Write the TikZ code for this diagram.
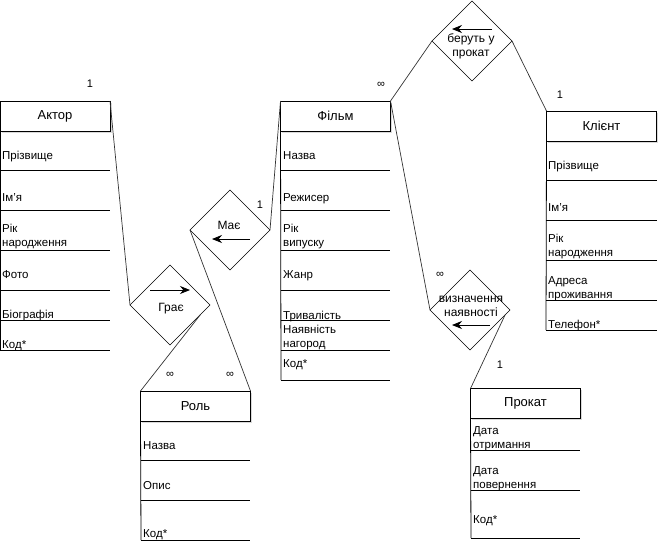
\documentclass[tikz,border=0pt]{standalone}
\usepackage{fontspec}
\setmainfont{Liberation Sans}
\usetikzlibrary{ shapes.geometric, % For the relation diamonds
                 arrows.meta,
                 shadows,
                 positioning,
               }
\tikzstyle{entity} = [rectangle, draw=black, fill=white, minimum width=110pt, minimum height=30pt, outer sep=0pt, font=\fontsize{13}{15}\selectfont, drop shadow={shadow xshift=1.5pt, shadow yshift=-1.5pt, opacity=0.3}]
\tikzstyle{attr} = [anchor=base west, inner sep=0pt, align=left, font=\fontsize{11.5}{14}\selectfont]
\tikzstyle{rowline} = [line width=0.8pt]
\tikzstyle{relation} = [diamond, draw=black, fill=white, minimum width=80pt, minimum height=80pt, inner sep=0pt, outer sep=0pt]
\tikzstyle{reltext} = [anchor=base, inner sep=0pt, align=center, font=\fontsize{12}{14}\selectfont]
\tikzstyle{relarrow} = [-{Stealth[length=10pt, width=8pt]}, line width=0.9pt]
\tikzstyle{link} = [draw=black!80, line width=0.7pt]
\tikzstyle{card} = [inner sep=0pt, font=\fontsize{11}{13}\selectfont]

\begin{document}
\begin{tikzpicture}[x=1pt, y=-1pt]
  \useasboundingbox (0,0) rectangle (669,552);

  % Актор
  \node (aktor) [entity] at (55,116) {Актор};
  \draw [rowline] (aktor.south west) -- (0,350);
  \foreach \ly in {170,210,250,290,320,350} \draw [rowline] (0,\ly) -- (110,\ly);
  \node (aktor-1) [attr] at (2,159) {Прізвище};
  \node (aktor-2) [attr] at (2,201) {Ім'я};
  \node (aktor-3) [attr] at (2,246) {Рік\\народження};
  \node (aktor-4) [attr] at (2,278) {Фото};
  \node (aktor-5) [attr] at (2,318) {Біографія};
  \node (aktor-6) [attr] at (2,348) {Код*};

  % Фільм
  \node (film) [entity] at (335.5,116) {Фільм};
  \draw [rowline] (film.south west) -- (281,380);
  \foreach \ly in {170,210,250,290,320,350,380} \draw [rowline] (281,\ly) -- (390,\ly);
  \node (film-1) [attr] at (283,159) {Назва};
  \node (film-2) [attr] at (283,201) {Режисер};
  \node (film-3) [attr] at (283,246) {Рік\\випуску};
  \node (film-4) [attr] at (283,278) {Жанр};
  \node (film-5) [attr] at (283,319) {Тривалість};
  \node (film-6) [attr] at (283,347) {Наявність\\нагород};
  \node (film-7) [attr] at (283,367) {Код*};

  % Клієнт
  \node (klient) [entity] at (601.5,126) {Клієнт};
  \draw [rowline] (klient.south west) -- (546,330);
  \foreach \ly in {180,220,260,300,330} \draw [rowline] (546,\ly) -- (657,\ly);
  \node (klient-1) [attr] at (548,169) {Прізвище};
  \node (klient-2) [attr] at (548,211) {Ім'я};
  \node (klient-3) [attr] at (548,256) {Рік\\народження};
  \node (klient-4) [attr] at (548,298) {Адреса\\проживання};
  \node (klient-5) [attr] at (548,328) {Телефон*};

  % Роль
  \node (rol) [entity] at (195.5,406) {Роль};
  \draw [rowline] (rol.south west) -- (141,540);
  \foreach \ly in {460,500,540} \draw [rowline] (141,\ly) -- (250,\ly);
  \node (rol-1) [attr] at (143,449) {Назва};
  \node (rol-2) [attr] at (143,489) {Опис};
  \node (rol-3) [attr] at (143,537) {Код*};

  % Прокат
  \node (prokat) [entity] at (525.5,403.5) {Прокат};
  \draw [rowline] (prokat.south west) -- (471,538);
  \foreach \ly in {450,490,538} \draw [rowline] (471,\ly) -- (580,\ly);
  \node (prokat-1) [attr] at (473,448) {Дата\\отримання};
  \node (prokat-2) [attr] at (473,488) {Дата\\повернення};
  \node (prokat-3) [attr] at (473,523) {Код*};

  % relations
  \node (grae) [relation] at (170,305) {};
  \node (grae-t) [reltext] at (171,311) {Грає};
  \draw [relarrow] (150,290) -- (190,290);

  \node (maye) [relation] at (230,230) {};
  \node (maye-t) [reltext] at (229,229) {Має};
  \draw [relarrow] (250,239) -- (212,239);

  \node (beruty) [relation] at (472,41) {};
  \node (beruty-t) [reltext] at (471,56) {беруть у\\прокат};
  \draw [relarrow] (492,29) -- (452,29);

  \node (vyzn) [relation] at (470,310) {};
  \node (vyzn-t) [reltext] at (471,316) {визначення\\наявності};
  \draw [relarrow] (490,325) -- (452,325);

  % connectors
  \draw [link] (aktor.north east) -- (grae.west);
  \draw [link] (grae.-17) -- (rol.north west);
  \draw [link] (maye.west) -- (rol.north east);
  \draw [link] (maye.east) -- (film.north west);
  \draw [link] (film.north east) -- (beruty.west);
  \draw [link] (beruty.east) -- (klient.north west);
  \draw [link] (film.north east) -- (vyzn.west);
  \draw [link] (vyzn.-8) -- (prokat.north west);

  % cardinalities
  \node (c1) [card] at (90,84) {1};
  \node (c2) [card] at (260,205) {1};
  \node (c3) [card] at (170,375) {∞};
  \node (c4) [card] at (230,375) {∞};
  \node (c5) [card] at (381,85) {∞};
  \node (c6) [card] at (560,95) {1};
  \node (c7) [card] at (440,275) {∞};
  \node (c8) [card] at (500,365) {1};
\end{tikzpicture}
\end{document}
